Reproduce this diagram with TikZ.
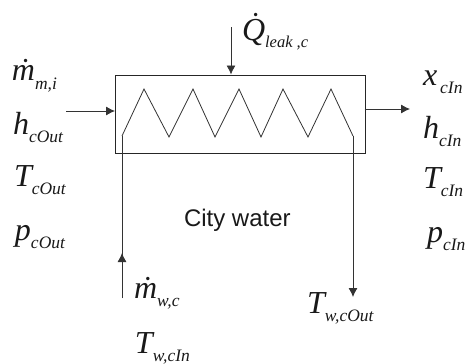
\documentclass[tikz,border=0pt]{standalone}
\usepackage{fontspec}
\setmainfont{Liberation Serif}
\newfontfamily\labelsans{Liberation Sans}
\usetikzlibrary{arrows.meta}
\newcommand{\varlbl}[3][32]{{\itshape\fontsize{#1}{#1}\selectfont #2}\raisebox{-8.5pt}{\itshape\fontsize{17.5}{17.5}\selectfont #3}}
\tikzset{
  var/.style={anchor=base west,inner sep=0pt,outer sep=0pt,text=black!90},
  wire/.style={draw=black!80,line width=0.8pt},
  flow/.style={wire,-{Latex[length=9pt,width=9pt]}}
}
\begin{document}
\begin{tikzpicture}[x=1pt,y=-1pt]
\useasboundingbox (0,0) rectangle (467,364);
\node[draw=black!85,line width=0.8pt,minimum width=249.5pt,minimum height=78.5pt,inner sep=0pt,anchor=north west] (box) at (115,74.5) {};
% coil
\coordinate (z0) at (122,136);
\coordinate (z1) at (144,89);
\coordinate (z2) at (169,137);
\coordinate (z3) at (193,89);
\coordinate (z4) at (215,137);
\coordinate (z5) at (239,89);
\coordinate (z6) at (261,137);
\coordinate (z7) at (283,89);
\coordinate (z8) at (308,137);
\coordinate (z9) at (331,89);
\coordinate (z10) at (353,136);
\draw[wire,line join=miter] (z0)--(z1)--(z2)--(z3)--(z4)--(z5)--(z6)--(z7)--(z8)--(z9)--(z10);
% connectors
\coordinate (qs) at (231,27);
\coordinate (qe) at (231,74.5);
\coordinate (ls) at (66,111);
\coordinate (le) at (115,111);
\coordinate (rs) at (364.5,109);
\coordinate (re) at (410,109);
\coordinate (wb) at (122,298);
\coordinate (wa) at (122,253);
\coordinate (wo) at (353,297);
\draw[flow] (qs)--(qe);
\draw[flow] (ls)--(le);
\draw[flow] (rs)--(re);
\draw[wire] (wb)--(z0);
\draw[flow] (wb)--(wa);
\draw[flow] (z10)--(wo);
% labels
\node[var] (q) at (242,40) {{\itshape\fontsize{32}{32}\selectfont \.Q}\raisebox{-7pt}{\itshape\fontsize{16.5}{16.5}\selectfont leak ,c}};
\node[var] (m) at (12,81) {\varlbl{\.m}{m,i}};
\node[var] (h) at (13,134) {\varlbl{h}{cOut}};
\node[var] (T) at (14,186) {\varlbl{T}{cOut}};
\node[var] (p) at (15,240) {\varlbl{p}{cOut}};
\node[var] (x2) at (423,85) {\varlbl{x}{\hspace{3pt}cIn}};
\node[var] (h2) at (423,138) {\varlbl{h}{cIn}};
\node[var] (T2) at (423,188) {\varlbl{T}{cIn}};
\node[var] (p2) at (427,242) {\varlbl{p}{cIn}};
\node[var] (mw) at (134,298) {\varlbl{\.m}{w,c}};
\node[var] (Tw) at (135,353) {\varlbl{T}{w,cIn}};
\node[var] (To) at (307,313) {\varlbl{T}{w,cOut}};
\node[var] (cw) at (184,226) {\labelsans\fontsize{24}{24}\selectfont City water};
\end{tikzpicture}
\end{document}
